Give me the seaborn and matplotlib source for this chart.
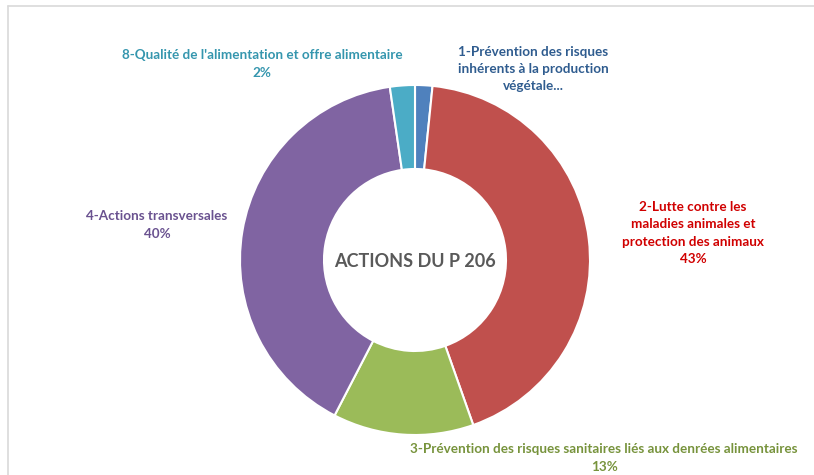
import matplotlib
matplotlib.use("Agg")
import matplotlib.pyplot as plt
from matplotlib.lines import Line2D
import seaborn as sns

categories = [
    "1-Prévention des risques\ninhérents à la production\nvégétale...",
    "2-Lutte contre les\nmaladies animales et\nprotection des animaux",
    "3-Prévention des risques sanitaires liés aux denrées alimentaires",
    "4-Actions transversales",
    "8-Qualité de l'alimentation et offre alimentaire",
]
values = [1.6, 43.0, 13.0, 40.1, 2.3]
pct_labels = ["", "43%", "13%", "40%", "2%"]
colors = ["#4F81BD", "#C0504D", "#9BBB59", "#8064A2", "#4BACC6"]
label_colors = ["#2F5C8F", "#D00000", "#77933C", "#6A5290", "#3596AE"]
center_title = "ACTIONS DU P 206"

sns.set_theme(style="white")
plt.rcParams["font.family"] = ["Lato", "DejaVu Sans"]

W, H = 814, 475
fig = plt.figure(figsize=(W / 100, H / 100), dpi=100)
fig.patch.set_facecolor("white")

# light border of chart area
fig.add_artist(Line2D([8 / W, 1.0], [1 - 6 / H, 1 - 6 / H], transform=fig.transFigure,
                      color="#D9D9D9", lw=1.2))
fig.add_artist(Line2D([8 / W, 8 / W], [0.0, 1 - 6 / H], transform=fig.transFigure,
                      color="#D9D9D9", lw=1.2))

cx, cy, r = 415, 260, 175
ax = fig.add_axes([(cx - r) / W, (H - cy - r) / H, 2 * r / W, 2 * r / H])
ax.pie(values, colors=colors, startangle=90, counterclock=False, radius=1.0,
       wedgeprops=dict(width=0.48, edgecolor="white", linewidth=1.5))
ax.set_xlim(-1.0, 1.0)
ax.set_ylim(-1.0, 1.0)
ax.axis("off")

ax.text(0, -0.01, center_title, ha="center", va="center", fontsize=13,
        fontweight="bold", color="#595959")

def ftext(x, y, s, color):
    fig.text(x / W, 1 - y / H, s, ha="center", va="center", fontsize=9.7,
             fontweight="bold", color=color, linespacing=1.55)

pos = [(533, 69), (693, 233), (604, 458), (157, 225), (262, 64)]
for (x, y), cat, pct, col in zip(pos, categories, pct_labels, label_colors):
    s = cat if pct == "" else cat + "\n" + pct
    ftext(x, y, s, col)

fig.savefig("out.png", dpi=100, facecolor="white")
